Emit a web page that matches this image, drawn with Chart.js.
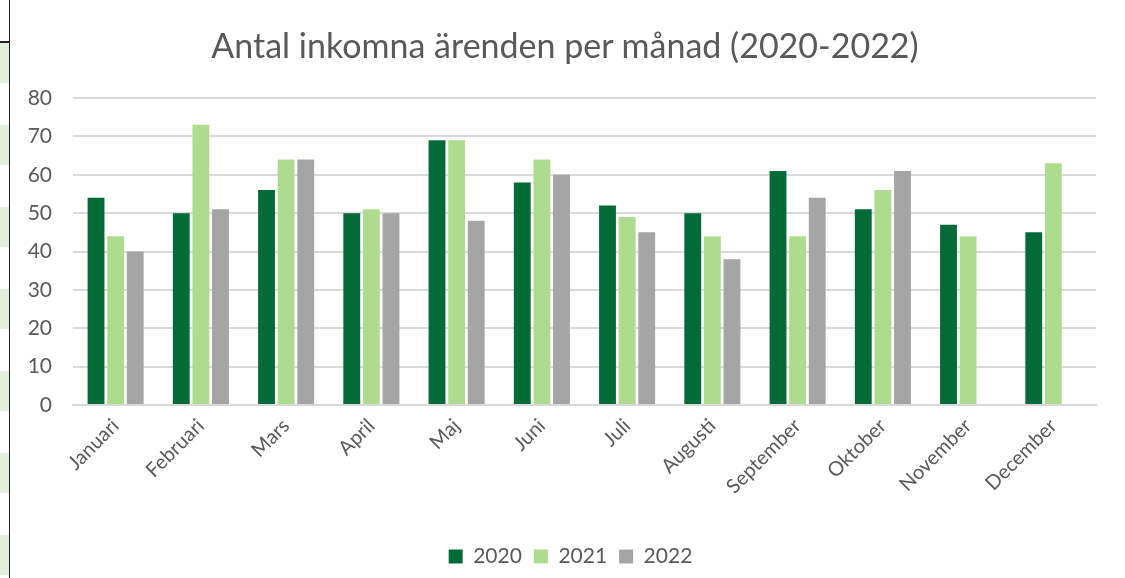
<!DOCTYPE html>
<html lang="sv">
<head>
<meta charset="utf-8">
<script src="https://cdn.jsdelivr.net/npm/chart.js@4/dist/chart.umd.min.js"></script>
<style>
    html, body { margin: 0; padding: 0; background: #fff; }
    body { width: 1125px; height: 578px; position: relative; overflow: hidden; }
    .sheet-edge {
        position: absolute; left: 0; top: 0; width: 9px; height: 578px;
        border-right: 1.5px solid #222;
    }
    .sheet-cells {
        position: absolute; left: 0; top: 43px; width: 9px; height: 535px;
        background: repeating-linear-gradient(to bottom, #e2efda 0 40px, #fff 40px 82px);
    }
    .sheet-top { position: absolute; left: 0; top: 41px; width: 10px; height: 2px; background: #222; }
    .chart-box { position: absolute; left: 11px; top: 0; width: 1114px; height: 578px; }
    .chart-title {
        position: absolute; left: 165px; width: 800px; top: 24px; height: 42px;
        margin: 0; text-align: center; line-height: 42px;
        font: normal 34px Lato, "Open Sans", sans-serif; color: #595959;
    }
</style>
</head>
<body>
<div class="sheet-edge"></div>
<div class="sheet-cells"></div>
<div class="sheet-top"></div>
<div class="chart-box"><canvas id="arendenChart"></canvas></div>
<h1 class="chart-title">Antal inkomna ärenden per månad (2020-2022)</h1>

<script>
const months = ['Januari', 'Februari', 'Mars', 'April', 'Maj', 'Juni', 'Juli', 'Augusti', 'September', 'Oktober', 'November', 'December'];
const years = ['2020', '2021', '2022'];
const values2020 = [54, 50, 56, 50, 69, 58, 52, 50, 61, 51, 47, 45];
const values2021 = [44, 73, 64, 51, 69, 64, 49, 44, 44, 56, 44, 63];
const values2022 = [40, 51, 64, 50, 48, 60, 45, 38, 54, 61, null, null];
const yTicks = [0, 10, 20, 30, 40, 50, 60, 70, 80];

const colors = ['#046a38', '#aedc8f', '#a5a5a5'];
const textColor = '#595959';
const fontFamily = 'Lato, "Open Sans", sans-serif';

const allValues = [values2020, values2021, values2022];

// flytta förklaringen lite åt höger, som i Excel-diagrammet
const legendShift = {
    id: 'legendShift',
    afterLayout(chart) {
        chart.legend.left += 17;
        chart.legend.right += 17;
    }
};

new Chart(document.getElementById('arendenChart'), {
    type: 'bar',
    data: {
        labels: months,
        datasets: years.map((y, i) => ({
            label: y,
            data: allValues[i],
            backgroundColor: colors[i],
            categoryPercentage: 0.69,
            barPercentage: 0.86
        }))
    },
    plugins: [legendShift],
    options: {
        responsive: true,
        maintainAspectRatio: false,
        animation: false,
        layout: { padding: { top: 98, right: 29, bottom: 1, left: 0 } },
        plugins: {
            title: { display: false },
            legend: {
                position: 'bottom',
                labels: {
                    color: textColor,
                    font: { family: fontFamily, size: 21 },
                    boxWidth: 14,
                    boxHeight: 14,
                    padding: 12
                }
            },
            tooltip: { enabled: false }
        },
        scales: {
            x: {
                grid: { display: false },
                border: { color: '#d9d9d9', width: 2 },
                afterFit: (scale) => { scale.height = 129; },
                ticks: {
                    color: textColor,
                    font: { family: fontFamily, size: 20 },
                    minRotation: 45,
                    maxRotation: 45,
                    padding: 1
                }
            },
            y: {
                min: 0,
                max: 80,
                afterBuildTicks: (scale) => {
                    scale.ticks = yTicks.map(v => ({ value: v }));
                },
                afterFit: (scale) => { scale.width = 62; },
                grid: { color: '#d9d9d9', lineWidth: 2, drawTicks: false },
                border: { display: false },
                ticks: {
                    color: textColor,
                    font: { family: fontFamily, size: 21 },
                    padding: 21
                }
            }
        }
    }
});
</script>
</body>
</html>
